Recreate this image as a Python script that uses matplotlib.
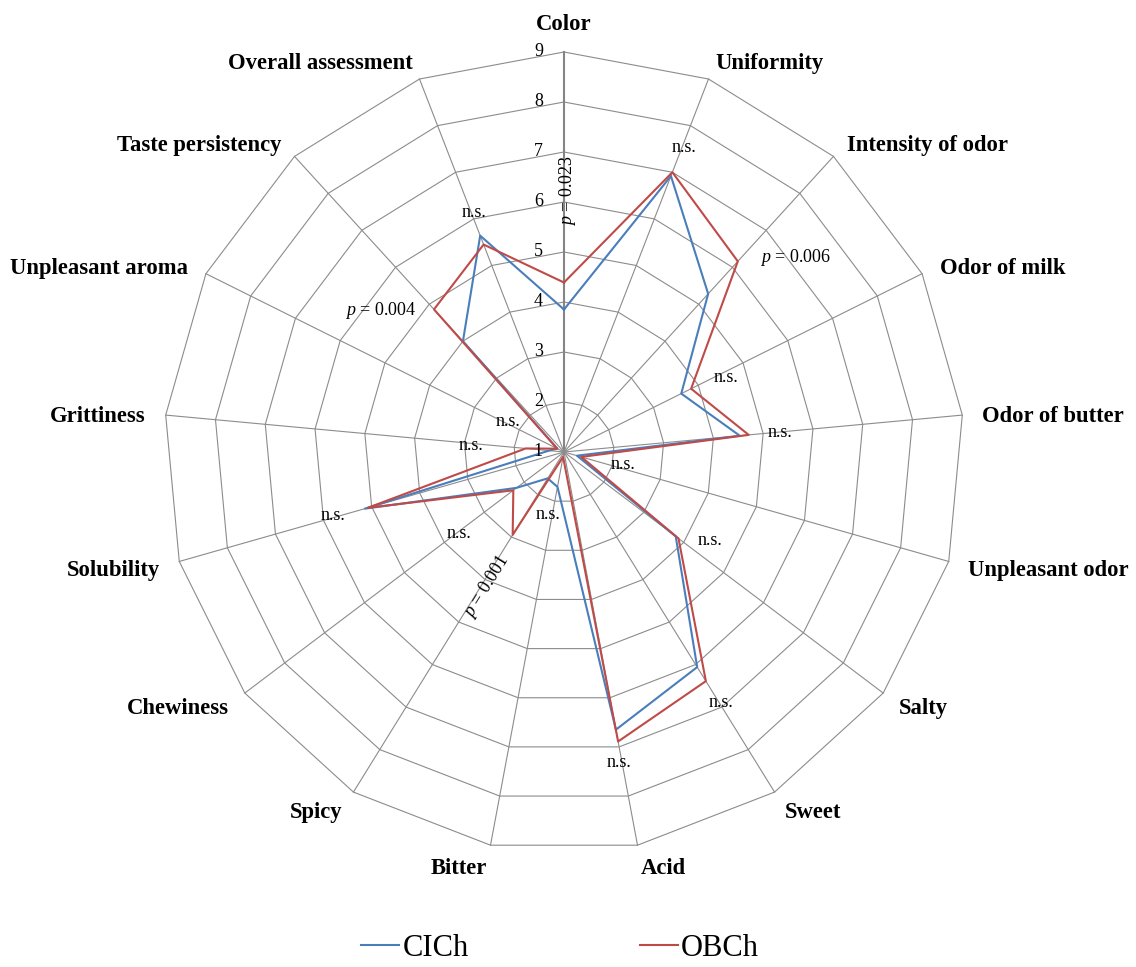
import numpy as np
import matplotlib
matplotlib.use("Agg")
import matplotlib.pyplot as plt
from matplotlib.lines import Line2D

# ---------------- data ----------------
categories = ["Color", "Uniformity", "Intensity of odor", "Odor of milk",
              "Odor of butter", "Unpleasant odor", "Salty", "Sweet", "Acid",
              "Bitter", "Spicy", "Chewiness", "Solubility", "Grittiness",
              "Unpleasant aroma", "Taste persistency", "Overall assessment"]
cich = [3.85, 6.92, 5.28, 3.62, 4.53, 1.27, 3.80, 6.06, 6.65,
        1.71, 1.62, 2.19, 5.14, 1.30, 1.15, 4.00, 5.64]
obch = [4.39, 7.00, 6.16, 3.84, 4.71, 1.36, 3.87, 6.39, 6.89,
        1.10, 2.95, 2.27, 5.08, 1.77, 1.15, 4.86, 5.45]
sig_labels = [r"$p$ = 0.023", "n.s.", r"$p$ = 0.006", "n.s.", "n.s.", "n.s.",
              "n.s.", "n.s.", "n.s.", "n.s.", r"$p$ = 0.001", "n.s.", "n.s.",
              "n.s.", "n.s.", r"$p$ = 0.004", "n.s."]
levels = [1, 2, 3, 4, 5, 6, 7, 8, 9]
series_names = ["CICh", "OBCh"]

# ---------------- layout / style ----------------
plt.rcParams['font.family'] = ['Liberation Serif', 'DejaVu Serif']
plt.rcParams['mathtext.fontset'] = 'custom'
plt.rcParams['mathtext.rm'] = 'Liberation Serif'
plt.rcParams['mathtext.it'] = 'Liberation Serif:italic'

W, H, DPI = 1136, 967, 100
PX = 72.0 / DPI  # points per pixel
fig = plt.figure(figsize=(W / DPI, H / DPI), dpi=DPI)
cx, cy, R = 564, 452, 400
ax = fig.add_axes([(cx - R) / W, (H - cy - R) / H, 2 * R / W, 2 * R / H],
                  projection='polar')
ax.set_theta_zero_location('N')
ax.set_theta_direction(-1)
ax.set_ylim(levels[0], levels[-1])
ax.set_xticks([])
ax.set_yticks([])
ax.grid(False)
ax.spines['polar'].set_visible(False)

n = len(categories)
theta = np.arange(n) * 2 * np.pi / n
theta_c = np.append(theta, theta[0])

grid_color = '#8c8c8c'
for lv in levels[1:]:
    ax.plot(theta_c, [lv] * (n + 1), color=grid_color, lw=0.8,
            clip_on=False, zorder=1)
for i, t in enumerate(theta):
    ax.plot([t, t], [levels[0], levels[-1]],
            color='#858585' if i == 0 else grid_color,
            lw=1.5 if i == 0 else 0.8, clip_on=False, zorder=1)

blue = '#4A7EBB'
red = '#BE4B48'
ax.plot(theta_c, np.append(cich, cich[0]), color=blue, lw=1.5,
        zorder=3, clip_on=False)
ax.plot(theta_c, np.append(obch, obch[0]), color=red, lw=1.5,
        zorder=4, clip_on=False)

# radial tick labels
for lv in levels:
    ax.annotate(str(lv), xy=(0, lv), xytext=(-21 * PX, 2 * PX),
                textcoords='offset points', ha='right', va='center_baseline',
                fontsize=13, annotation_clip=False, zorder=5)

# category labels
for i, (t, name) in enumerate(zip(theta, categories)):
    s, c = np.sin(t), np.cos(t)
    ha = 'left' if s > 1e-6 else ('right' if s < -1e-6 else 'center')
    d = 31 if i == 0 else 20
    ax.annotate(name, xy=(t, levels[-1]),
                xytext=(s * d * PX, (c * d - 3.5) * PX),
                textcoords='offset points', ha=ha, va='center',
                fontsize=16.3, fontweight='bold', annotation_clip=False)

# significance labels (offsets in pixels, x right / y down)
label_offsets = [(3.5, -91.5), (12, -25), (22, -4), (35, -11), (31.5, -2),
                 (42, 8), (31, 2), (15, 21), (1, 21), (-9, 28), (-26, 52),
                 (-54, 43), (-32, 7), (-55, -3), (-49, -27), (-18, 0.7),
                 (-6, -23)]
for i, (t, txt) in enumerate(zip(theta, sig_labels)):
    r = max(cich[i], obch[i])
    ox, oy = label_offsets[i]
    ha = 'left' if i == 2 else ('right' if i == 15 else 'center')
    rot = 90 if i == 0 else (58.2 if i == 10 else 0)
    ax.annotate(txt, xy=(t, r), xytext=(ox * PX, -oy * PX),
                textcoords='offset points', ha=ha, va='center',
                rotation=rot, rotation_mode='anchor', fontsize=13,
                annotation_clip=False, zorder=6)

handles = [Line2D([], [], color=blue, lw=1.5), Line2D([], [], color=red, lw=1.5)]
fig.legend(handles, series_names, loc='center',
           bbox_to_anchor=(560 / W, 1 - 948 / H), ncol=2, frameon=False,
           fontsize=22, handlelength=1.25, handletextpad=0.1,
           columnspacing=5.6)

fig.savefig("out.png", dpi=DPI)
